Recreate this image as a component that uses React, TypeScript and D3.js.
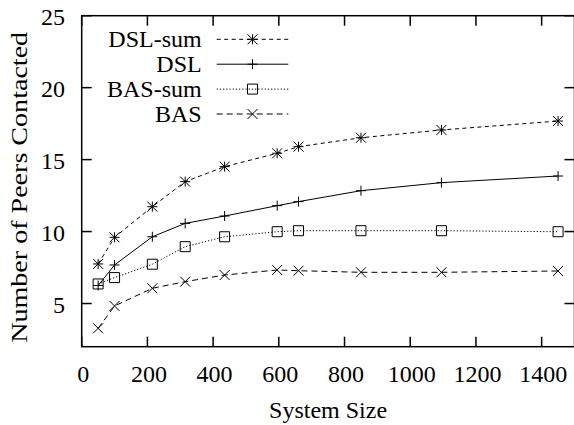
import React from "react";
import * as d3 from "d3";

const systemSizes = [50, 100, 215, 315, 435, 595, 660, 850, 1095, 1450];
const dslSum = [7.75, 9.6, 11.73, 13.47, 14.51, 15.44, 15.9, 16.52, 17.06, 17.68];
const dsl = [6.25, 7.68, 9.64, 10.57, 11.08, 11.8, 12.08, 12.84, 13.4, 13.86];
const basSum = [6.36, 6.8, 7.73, 8.95, 9.64, 9.99, 10.06, 10.06, 10.06, 9.99];
const bas = [3.28, 4.83, 6.06, 6.52, 6.98, 7.33, 7.28, 7.17, 7.17, 7.26];
const xTicks = [0, 200, 400, 600, 800, 1000, 1200, 1400];
const yTicks = [5, 10, 15, 20, 25];
const seriesNames = ["DSL-sum", "DSL", "BAS-sum", "BAS"];

const W = 574;
const H = 425;
const left = 81.7;
const right = 574.5;
const top = 15.7;
const bottom = 346.7;
const FONT = "Liberation Serif, Times New Roman, Times, DejaVu Serif, serif";

type Marker = "star" | "plus" | "square" | "cross";

const series: { name: string; values: number[]; dash: string | undefined; marker: Marker }[] = [
  { name: seriesNames[0], values: dslSum, dash: "4,3.5", marker: "star" },
  { name: seriesNames[1], values: dsl, dash: undefined, marker: "plus" },
  { name: seriesNames[2], values: basSum, dash: "1.2,2", marker: "square" },
  { name: seriesNames[3], values: bas, dash: "6,4", marker: "cross" },
];

function markerPath(m: Marker, x: number, y: number, s = 5): string {
  const plus = `M${x - s},${y}H${x + s}M${x},${y - s}V${y + s}`;
  const cross = `M${x - s},${y - s}L${x + s},${y + s}M${x - s},${y + s}L${x + s},${y - s}`;
  if (m === "plus") return plus;
  if (m === "cross") return cross;
  if (m === "star") return plus + cross;
  return `M${x - s},${y - s}H${x + s}V${y + s}H${x - s}Z`;
}

const txt = (size: number): React.CSSProperties => ({ fontFamily: FONT, fontSize: size + "px" });

export default function App() {
  const xs = d3.scaleLinear().domain([0, 1500]).range([left, right]);
  const ys = d3.scaleLinear().domain([2, 25]).range([bottom, top]);
  const line = d3
    .line<[number, number]>()
    .x((d) => xs(d[0]))
    .y((d) => ys(d[1]));
  const tickLen = 10;

  const legendX = 201.7;
  const legendLine0 = 216.7;
  const legendLine1 = 288.3;
  const legendY0 = 39.3;
  const legendDy = 24.9;

  return (
    <svg
      width={W}
      height={H}
      style={{ position: "absolute", left: 0, top: 0, background: "#fff" }}
    >
      <rect x={0} y={0} width={W} height={H} fill="#fff" />
      {/* ticks */}
      <g stroke="#000" strokeWidth={1.5}>
        {xTicks.map((t) => (
          <g key={"xt" + t}>
            <line x1={xs(t)} x2={xs(t)} y1={bottom} y2={bottom - tickLen} />
            <line x1={xs(t)} x2={xs(t)} y1={top} y2={top + tickLen} />
          </g>
        ))}
        {yTicks.map((t) => (
          <g key={"yt" + t}>
            <line x1={left} x2={left + tickLen} y1={ys(t)} y2={ys(t)} />
            <line x1={right} x2={right - tickLen} y1={ys(t)} y2={ys(t)} />
          </g>
        ))}
      </g>
      <rect
        x={left}
        y={top}
        width={right - left}
        height={bottom - top}
        fill="none"
        stroke="#000"
        strokeWidth={1.5}
      />
      {/* tick labels */}
      <g fill="#000">
        {xTicks.map((t) => (
          <text key={"xl" + t} x={xs(t) + 1.5} y={381.7} textAnchor="middle" style={txt(24)}>
            {t}
          </text>
        ))}
        {yTicks.map((t) => (
          <text key={"yl" + t} x={65} y={ys(t) + 9.5} textAnchor="end" style={txt(24)}>
            {t}
          </text>
        ))}
      </g>
      {/* axis titles */}
      <text x={(left + right) / 2} y={418.3} textAnchor="middle" style={txt(24)}>
        System Size
      </text>
      <text
        transform={`translate(26.5,${(31.7 + 343) / 2}) rotate(-90)`}
        textAnchor="middle"
        style={txt(23)}
        textLength={311}
        lengthAdjust="spacingAndGlyphs"
      >
        Number of Peers Contacted
      </text>
      {/* series */}
      {series.map((s) => {
        const pts: [number, number][] = systemSizes.map((x, i) => [x, s.values[i]]);
        return (
          <g key={s.name}>
            <path
              d={line(pts) || ""}
              fill="none"
              stroke="#000"
              strokeWidth={1}
              strokeDasharray={s.dash}
            />
            <path
              d={pts.map((p) => markerPath(s.marker, xs(p[0]), ys(p[1]))).join("")}
              fill="none"
              stroke="#000"
              strokeWidth={1}
            />
          </g>
        );
      })}
      {/* legend */}
      {series.map((s, i) => {
        const y = legendY0 + i * legendDy;
        return (
          <g key={"lg" + s.name}>
            <text x={legendX} y={y + 8} textAnchor="end" style={txt(24)}>
              {s.name}
            </text>
            <line
              x1={legendLine0}
              x2={legendLine1}
              y1={y}
              y2={y}
              stroke="#000"
              strokeWidth={1}
              strokeDasharray={s.dash}
            />
            <path
              d={markerPath(s.marker, (legendLine0 + legendLine1) / 2, y)}
              fill="none"
              stroke="#000"
              strokeWidth={1}
            />
          </g>
        );
      })}
    </svg>
  );
}
